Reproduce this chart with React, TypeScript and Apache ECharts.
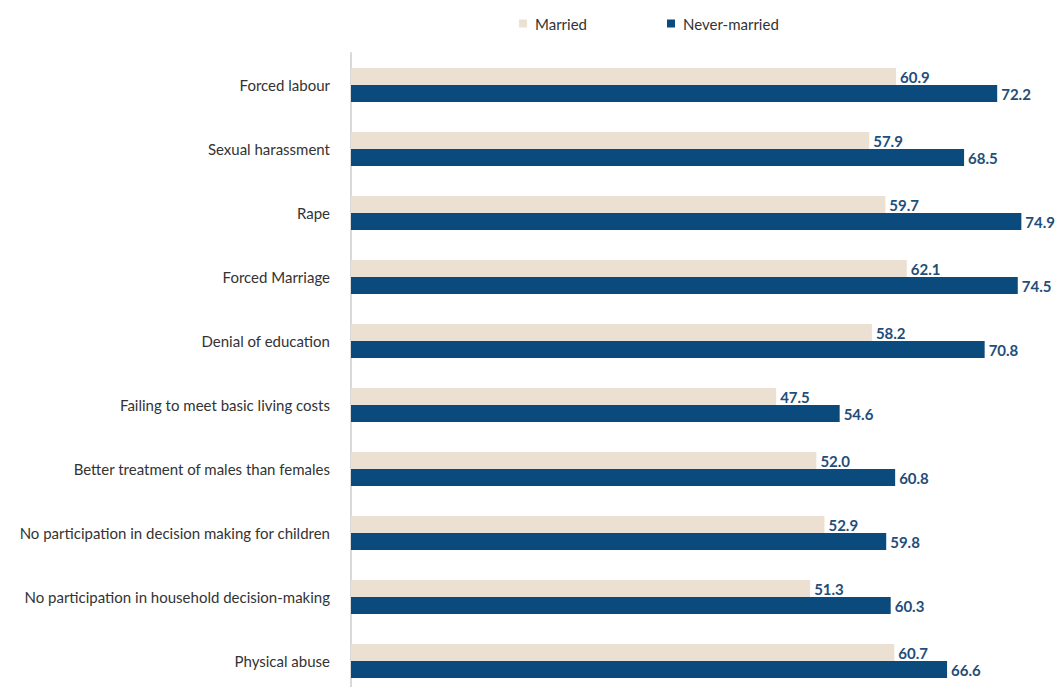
import React, { useEffect, useRef } from "react";
import * as echarts from "echarts";

const categories = [
  "Forced labour",
  "Sexual harassment",
  "Rape",
  "Forced Marriage",
  "Denial of education",
  "Failing to meet basic living costs",
  "Better treatment of males than females",
  "No participation in decision making for children",
  "No participation in household decision-making",
  "Physical abuse",
];
const married = [60.9, 57.9, 59.7, 62.1, 58.2, 47.5, 52.0, 52.9, 51.3, 60.7];
const neverMarried = [72.2, 68.5, 74.9, 74.5, 70.8, 54.6, 60.8, 59.8, 60.3, 66.6];

const FONT = "Lato, 'Open Sans', sans-serif";

export default function App() {
  const ref = useRef<HTMLDivElement>(null);
  useEffect(() => {
    if (!ref.current) return;
    const chart = echarts.init(ref.current, undefined, { renderer: "svg" });
    const label = {
      show: true,
      position: "right" as const,
      distance: 4,
      color: "#1f4e79",
      fontWeight: "bold" as const,
      fontSize: 15,
      fontFamily: FONT,
      formatter: (p: any) => Number(p.value).toFixed(1),
    };
    chart.setOption({
      animation: false,
      legend: {
        top: 11,
        left: 514,
        itemWidth: 8,
        itemHeight: 8,
        itemGap: 80,
        icon: "rect",
        textStyle: { fontSize: 15, color: "#333", fontFamily: FONT, padding: [0, 0, 0, 3] },
        data: ["Married", "Never-married"],
      },
      grid: {
        left: 351,
        width: 716,
        top: 53,
        height: 640,
        containLabel: false,
        outerBoundsMode: "none",
      },
      xAxis: {
        type: "value",
        min: 0,
        max: 80,
        show: false,
      },
      yAxis: {
        type: "category",
        inverse: true,
        data: categories,
        axisLine: { show: true, lineStyle: { color: "#d9d9d9", width: 2 } },
        axisTick: { show: false },
        axisLabel: { fontSize: 15, color: "#333", fontFamily: FONT, margin: 21 },
      },
      series: [
        {
          name: "Married",
          type: "bar",
          data: married,
          barWidth: 17,
          barGap: "0%",
          itemStyle: { color: "#ebe0d1" },
          label,
        },
        {
          name: "Never-married",
          type: "bar",
          data: neverMarried,
          barWidth: 17,
          itemStyle: { color: "#0b4a7d" },
          label,
        },
      ],
    });
    return () => chart.dispose();
  }, []);
  return (
    <div
      ref={ref}
      style={{ position: "absolute", left: 0, top: 0, width: 1062, height: 687, overflow: "hidden" }}
    />
  );
}
